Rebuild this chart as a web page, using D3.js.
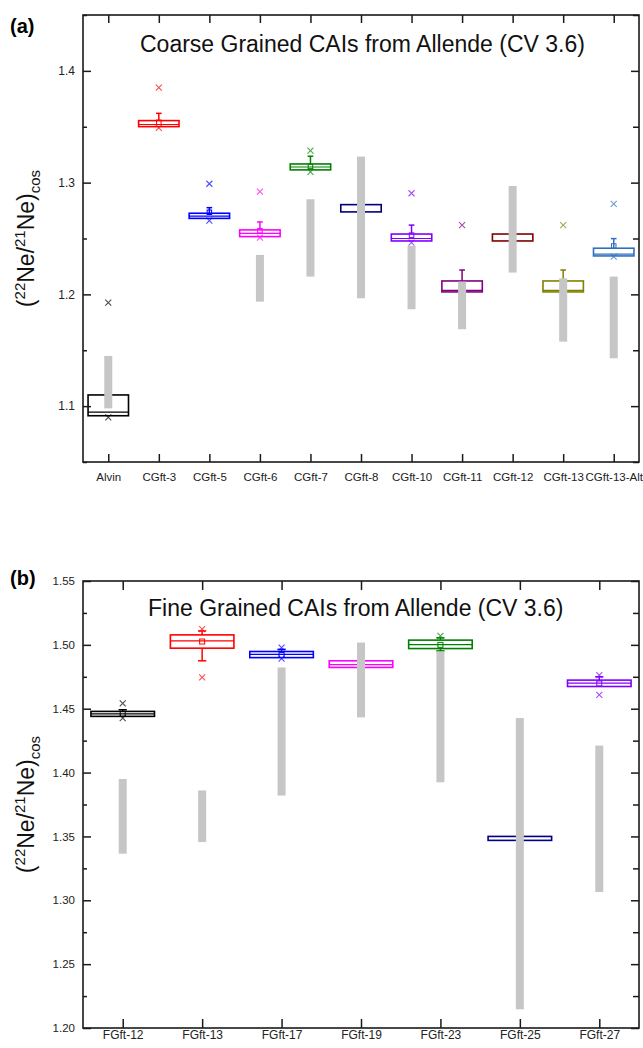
<!DOCTYPE html>
<html>
<head>
<meta charset="utf-8">
<script src="https://cdn.jsdelivr.net/npm/d3@7"></script>
<style>
  html, body { margin: 0; padding: 0; background: #fff; }
  svg { display: block; font-family: "Liberation Sans", Arial, sans-serif; }
</style>
</head>
<body>
<svg id="chart" width="643" height="1048"></svg>
<script>
// ---- (a) coarse grained CAIs ----
const catsA   = ["Alvin", "CGft-3", "CGft-5", "CGft-6", "CGft-7", "CGft-8", "CGft-10", "CGft-11", "CGft-12", "CGft-13", "CGft-13-Alt"];
const q1A     = [1.0914, 1.3501, 1.2680, 1.2517, 1.3114, 1.2738, 1.2478, 1.2022, 1.2478, 1.2022, 1.2344];
const q3A     = [1.1100, 1.3555, 1.2726, 1.2577, 1.3167, 1.2803, 1.2540, 1.2120, 1.2540, 1.2120, 1.2413];
const medA    = [1.0947, 1.3520, 1.2700, 1.2545, 1.3140, null,   1.2500, 1.2036, null,   1.2036, 1.2360];
const meanA   = [null,   1.3540, 1.2735, 1.2570, 1.3145, null,   1.2530, null,   null,   null,   1.2433];
const whHiA   = [null,   1.3620, 1.2776, 1.2648, 1.3236, null,   1.2620, 1.2218, null,   1.2218, 1.2499];
const whLoA   = [null,   null,   null,   null,   null,   null,   null,   null,   null,   null,   null];
const maxA    = [1.1926, 1.3850, 1.2990, 1.2920, 1.3287, null,   1.2905, 1.2619, null,   1.2619, 1.2810];
const minA    = [1.0900, 1.3490, 1.2660, 1.2508, 1.3096, null,   1.2463, null,   null,   null,   1.2338];
const rngLoA  = [1.0980, null,   null,   1.1935, 1.2159, 1.1965, 1.1867, 1.1688, 1.2195, 1.1577, 1.1428];
const rngHiA  = [1.1449, null,   null,   1.2353, 1.2851, 1.3233, 1.2433, 1.2114, 1.2970, 1.2144, 1.2159];
const yMajorA = [1.1, 1.2, 1.3, 1.4];
const yMinorA = [1.05, 1.15, 1.25, 1.35, 1.45];

// ---- (b) fine grained CAIs ----
const catsB   = ["FGft-12", "FGft-13", "FGft-17", "FGft-19", "FGft-23", "FGft-25", "FGft-27"];
const q1B     = [1.4440, 1.4974, 1.4900, 1.4823, 1.4971, 1.3469, 1.4674];
const q3B     = [1.4479, 1.5078, 1.4948, 1.4875, 1.5037, 1.3500, 1.4724];
const medB    = [1.4459, 1.5031, 1.4925, 1.4846, 1.5002, null,   1.4700];
const meanB   = [1.4460, 1.5026, 1.4920, null,   1.5000, null,   1.4698];
const whHiB   = [1.4492, 1.5109, 1.4965, null,   1.5055, null,   1.4750];
const whLoB   = [null,   1.4875, null,   null,   1.4953, null,   null];
const maxB    = [1.4542, 1.5123, 1.4979, null,   1.5070, null,   1.4763];
const minB    = [1.4427, 1.4745, 1.4893, null,   null,   null,   1.4609];
const rngLoB  = [1.3365, 1.3456, 1.3820, 1.4432, 1.3924, 1.2146, 1.3065];
const rngHiB  = [1.3950, 1.3860, 1.4823, 1.5018, 1.4948, 1.4427, 1.4211];
const yMajorB = [1.20, 1.25, 1.30, 1.35, 1.40, 1.45, 1.50, 1.55];
const yMinorB = [1.225, 1.275, 1.325, 1.375, 1.425, 1.475, 1.525];

// sample colours (Origin default palette order)
const paletteA = ["#000000", "#ff0000", "#0000ff", "#ff00ff", "#008000", "#000080", "#8000ff", "#800080", "#800000", "#808000", "#2f6fc0"];
const paletteB = ["#000000", "#ff0000", "#0000ff", "#ff00ff", "#008000", "#000080", "#8000ff"];

const svg = d3.select("#chart");
const LEFT = 83, RIGHT = 639;

function rows(cats, cols) {
  return cats.map((c, i) => {
    const r = { cat: c, i };
    for (const k in cols) r[k] = cols[k][i];
    return r;
  });
}

function drawPanel(o) {
  const g = svg.append("g");
  const x = d3.scalePoint().domain(o.cats).range([LEFT, RIGHT]).padding(0.5);
  const y = d3.scaleLinear().domain(o.domain).range([o.bottom, o.top]);
  const bw = x.step() * 0.8;
  const capW = bw * o.capFrac;
  const data = rows(o.cats, o.cols);
  const col = d => o.palette[d.i];

  // boxes
  g.selectAll("rect.box").data(data).join("rect")
    .attr("x", d => x(d.cat) - bw / 2)
    .attr("y", d => y(d.q3))
    .attr("width", bw)
    .attr("height", d => y(d.q1) - y(d.q3))
    .attr("fill", "none")
    .attr("stroke", col)
    .attr("stroke-width", 1.6);

  // medians
  g.selectAll("line.med").data(data.filter(d => d.med != null)).join("line")
    .attr("x1", d => x(d.cat) - bw / 2).attr("x2", d => x(d.cat) + bw / 2)
    .attr("y1", d => y(d.med)).attr("y2", d => y(d.med))
    .attr("stroke", col).attr("stroke-width", 1.2);

  // whiskers
  const wh = [];
  data.forEach(d => {
    if (d.whHi != null) wh.push({ d, from: d.q3, to: d.whHi });
    if (d.whLo != null) wh.push({ d, from: d.q1, to: d.whLo });
  });
  g.selectAll("line.whisk").data(wh).join("line")
    .attr("x1", w => x(w.d.cat)).attr("x2", w => x(w.d.cat))
    .attr("y1", w => y(w.from)).attr("y2", w => y(w.to))
    .attr("stroke", w => col(w.d)).attr("stroke-width", 1.5);
  g.selectAll("line.cap").data(wh).join("line")
    .attr("x1", w => x(w.d.cat) - capW / 2).attr("x2", w => x(w.d.cat) + capW / 2)
    .attr("y1", w => y(w.to)).attr("y2", w => y(w.to))
    .attr("stroke", w => col(w.d)).attr("stroke-width", 1.5);

  // means
  const ms = o.meanSize;
  g.selectAll("rect.mean").data(data.filter(d => d.mean != null)).join("rect")
    .attr("x", d => x(d.cat) - ms / 2).attr("y", d => y(d.mean) - ms / 2)
    .attr("width", ms).attr("height", ms)
    .attr("fill", "none").attr("stroke", col).attr("stroke-width", 1);

  // min / max crosses
  const pts = [];
  data.forEach(d => {
    if (d.max != null) pts.push({ d, v: d.max });
    if (d.min != null) pts.push({ d, v: d.min });
  });
  const cs = 3;
  g.selectAll("path.cross").data(pts).join("path")
    .attr("d", p => {
      const cx = x(p.d.cat), cy = y(p.v);
      return `M${cx - cs},${cy - cs}L${cx + cs},${cy + cs}M${cx - cs},${cy + cs}L${cx + cs},${cy - cs}`;
    })
    .attr("stroke", p => col(p.d)).attr("stroke-opacity", 0.7)
    .attr("stroke-width", 1.1).attr("fill", "none");

  // grey range bars
  g.selectAll("rect.range").data(data.filter(d => d.rngLo != null)).join("rect")
    .attr("x", d => x(d.cat) - 4)
    .attr("y", d => y(d.rngHi))
    .attr("width", 8)
    .attr("height", d => y(d.rngLo) - y(d.rngHi))
    .attr("fill", "#c6c6c6");

  // frame
  g.append("rect")
    .attr("x", LEFT).attr("y", o.top)
    .attr("width", RIGHT - LEFT).attr("height", o.bottom - o.top)
    .attr("fill", "none").attr("stroke", "#1a1a1a").attr("stroke-width", 1.6);

  // axes: ticks pointing inward on all sides
  const fmt = d3.format(o.fmt);
  const axLeft = d3.axisLeft(y).tickValues(o.yMajor).tickSize(-8).tickPadding(8).tickFormat(fmt);
  const gl = g.append("g").attr("transform", `translate(${LEFT},0)`).call(axLeft);
  gl.select(".domain").remove();
  gl.selectAll("line").attr("stroke", "#1a1a1a").attr("stroke-width", 1.5);
  gl.selectAll("text").attr("font-size", o.yFont).attr("fill", "#222");

  const axLeftMinor = d3.axisLeft(y).tickValues(o.yMinor).tickSize(-4).tickFormat("");
  const glm = g.append("g").attr("transform", `translate(${LEFT},0)`).call(axLeftMinor);
  glm.select(".domain").remove();
  glm.selectAll("line").attr("stroke", "#1a1a1a").attr("stroke-width", 1.5);

  const axRight = d3.axisRight(y).tickValues(o.yMajor).tickSize(-8).tickFormat("");
  const gr = g.append("g").attr("transform", `translate(${RIGHT},0)`).call(axRight);
  gr.select(".domain").remove();
  gr.selectAll("line").attr("stroke", "#1a1a1a").attr("stroke-width", 1.5);
  const axRightMinor = d3.axisRight(y).tickValues(o.yMinor).tickSize(-6).tickFormat("");
  const grm = g.append("g").attr("transform", `translate(${RIGHT},0)`).call(axRightMinor);
  grm.select(".domain").remove();
  grm.selectAll("line").attr("stroke", "#1a1a1a").attr("stroke-width", 1.5);

  const axBottom = d3.axisBottom(x).tickSize(-o.xTick).tickPadding(o.xPad);
  const gb = g.append("g").attr("transform", `translate(0,${o.bottom})`).call(axBottom);
  gb.select(".domain").remove();
  gb.selectAll("line").attr("stroke", "#1a1a1a").attr("stroke-width", 1.5);
  gb.selectAll("text").attr("font-size", o.xFont).attr("fill", "#222");

  const axTop = d3.axisTop(x).tickSize(-o.xTick).tickFormat("");
  const gt = g.append("g").attr("transform", `translate(0,${o.top})`).call(axTop);
  gt.select(".domain").remove();
  gt.selectAll("line").attr("stroke", "#1a1a1a").attr("stroke-width", 1.5);

  // title inside frame
  g.append("text")
    .attr("x", o.titleX).attr("y", o.titleY)
    .attr("font-size", 23).attr("fill", "#111")
    .text(o.title);

  // panel letter
  g.append("text")
    .attr("x", 10).attr("y", o.letterY)
    .attr("font-size", 20).attr("font-weight", "bold").attr("fill", "#000")
    .text(o.letter);

  // y-axis label (22Ne/21Ne)cos
  const cy = (o.top + o.bottom) / 2;
  const lab = g.append("text")
    .attr("transform", `translate(34,${cy}) rotate(-90)`)
    .attr("text-anchor", "middle")
    .attr("font-size", 23).attr("fill", "#111");
  lab.append("tspan").text("(");
  lab.append("tspan").attr("font-size", 15).attr("dy", -9).text("22");
  lab.append("tspan").attr("dy", 9).text("Ne/");
  lab.append("tspan").attr("font-size", 15).attr("dy", -9).text("21");
  lab.append("tspan").attr("dy", 9).text("Ne)");
  lab.append("tspan").attr("font-size", 15).attr("dy", 6).text("cos");
}

drawPanel({
  cats: catsA, palette: paletteA,
  cols: { q1: q1A, q3: q3A, med: medA, mean: meanA, whHi: whHiA, whLo: whLoA, max: maxA, min: minA, rngLo: rngLoA, rngHi: rngHiA },
  domain: [1.05, 1.45], top: 15, bottom: 462,
  yMajor: yMajorA, yMinor: yMinorA, fmt: ".1f", yFont: 12,
  xFont: 11.5, xTick: 8, xPad: 11, capFrac: 0.14, meanSize: 4.5,
  title: "Coarse Grained CAIs from Allende (CV 3.6)", titleX: 140, titleY: 52,
  letter: "(a)", letterY: 33
});

drawPanel({
  cats: catsB, palette: paletteB,
  cols: { q1: q1B, q3: q3B, med: medB, mean: meanB, whHi: whHiB, whLo: whLoB, max: maxB, min: minB, rngLo: rngLoB, rngHi: rngHiB },
  domain: [1.20, 1.55], top: 581, bottom: 1028,
  yMajor: yMajorB, yMinor: yMinorB, fmt: ".2f", yFont: 11.5,
  xFont: 12, xTick: 9, xPad: 2, capFrac: 0.13, meanSize: 5,
  title: "Fine Grained CAIs from Allende (CV 3.6)", titleX: 148, titleY: 616,
  letter: "(b)", letterY: 585
});
</script>
</body>
</html>
